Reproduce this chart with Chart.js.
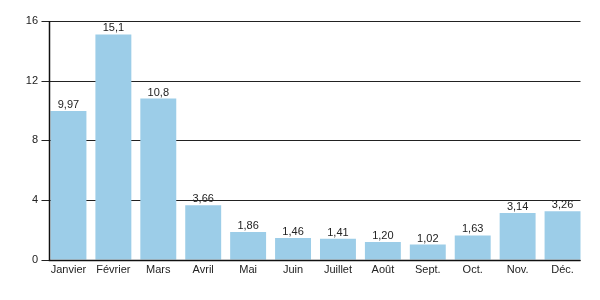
<!DOCTYPE html>
<html>
<head>
<meta charset="utf-8">
<script src="https://cdn.jsdelivr.net/npm/chart.js@4/dist/chart.umd.min.js"></script>
<style>
  html, body { margin: 0; padding: 0; background: #fff; }
  #wrap { width: 600px; height: 300px; }
</style>
</head>
<body>
<div id="wrap"><canvas id="myChart"></canvas></div>
<script>
const months = ['Janvier', 'Février', 'Mars', 'Avril', 'Mai', 'Juin', 'Juillet', 'Août', 'Sept.', 'Oct.', 'Nov.', 'Déc.'];
const values = [9.97, 15.1, 10.8, 3.66, 1.86, 1.46, 1.41, 1.20, 1.02, 1.63, 3.14, 3.26];
const yTicks = [0, 4, 8, 12, 16];

const catPct = 0.8;
const fontFamily = '"Liberation Sans", Arial, sans-serif';

function fmt(v) {
    return v.toPrecision(3).replace('.', ',');
}

// span of the bars, used for grid and axis lines
function barSpan(chart) {
    const x = chart.scales.x;
    const step = x.getPixelForValue(1) - x.getPixelForValue(0);
    const half = step * catPct / 2;
    return [x.getPixelForValue(0) - half - 1, x.getPixelForValue(months.length - 1) + half];
}

const gridPlugin = {
    id: 'gridLines',
    beforeDatasetsDraw(chart) {
        const ctx = chart.ctx;
        const y = chart.scales.y;
        const [x0, x1] = barSpan(chart);
        ctx.save();
        ctx.strokeStyle = '#222';
        ctx.lineWidth = 1;
        yTicks.forEach(t => {
            const py = Math.round(y.getPixelForValue(t)) + 0.5;
            ctx.beginPath();
            ctx.moveTo(x0 - 8, py);
            ctx.lineTo(x1, py);
            ctx.stroke();
        });
        ctx.restore();
    },
    afterDatasetsDraw(chart) {
        const ctx = chart.ctx;
        const y = chart.scales.y;
        const [x0, x1] = barSpan(chart);
        ctx.save();
        ctx.strokeStyle = '#111';
        ctx.lineWidth = 1.5;
        const top = y.getPixelForValue(16);
        const bottom = Math.round(y.getPixelForValue(0)) + 0.5;
        ctx.beginPath();
        ctx.moveTo(Math.round(x0) + 0.5, top);
        ctx.lineTo(Math.round(x0) + 0.5, bottom);
        ctx.lineTo(x1, bottom);
        ctx.stroke();

        // value labels
        ctx.fillStyle = '#222';
        ctx.font = '11px ' + fontFamily;
        ctx.textAlign = 'center';
        ctx.textBaseline = 'alphabetic';
        const meta = chart.getDatasetMeta(0);
        meta.data.forEach((bar, i) => {
            ctx.fillText(fmt(values[i]), bar.x, bar.y - 3);
        });
        ctx.restore();
    }
};

const config = {
    type: 'bar',
    data: {
        labels: months,
        datasets: [{
            data: values,
            backgroundColor: '#9ccde8',
            borderWidth: 0,
            barPercentage: 1,
            categoryPercentage: catPct
        }]
    },
    options: {
        responsive: true,
        maintainAspectRatio: false,
        animation: false,
        layout: {
            padding: { left: 10, right: 15, top: 21, bottom: 19 }
        },
        plugins: {
            legend: { display: false },
            tooltip: { enabled: false }
        },
        scales: {
            y: {
                min: 0,
                max: 16,
                afterBuildTicks: (axis) => {
                    axis.ticks = yTicks.map(v => ({ value: v }));
                },
                afterFit: (axis) => {
                    axis.width = 36;
                },
                grid: { display: false },
                border: { display: false },
                ticks: {
                    color: '#222',
                    padding: 0,
                    font: { family: fontFamily, size: 11 }
                }
            },
            x: {
                grid: { display: false, drawTicks: false },
                border: { display: false },
                ticks: {
                    color: '#222',
                    padding: 4,
                    maxRotation: 0,
                    autoSkip: false,
                    font: { family: fontFamily, size: 11 }
                }
            }
        }
    },
    plugins: [gridPlugin]
};

const myChart = new Chart(document.getElementById('myChart'), config);
</script>
</body>
</html>
